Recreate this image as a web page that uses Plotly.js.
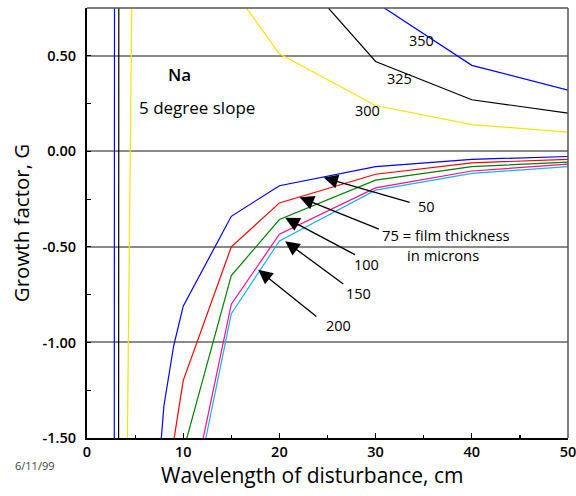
<!DOCTYPE html>
<html>
<head>
<meta charset="utf-8">
<script src="https://cdn.plot.ly/plotly-3.0.1.min.js"></script>
<style>html,body{margin:0;padding:0;background:#fff;}#chart{width:576px;height:496px;}</style>
</head>
<body>
<div id="chart"></div>
<script>
// Wavelength (cm) and growth factor G for each curve
const x350 = [2, 3, 5, 10, 15, 20, 30, 40, 50];
const g350 = [-85, 15, 8, 4, 2, 1.3, 0.78, 0.45, 0.32];
const x325 = [3, 4, 5, 10, 15, 20, 30, 40, 50];
const g325 = [-30, 70, 10, 4, 2, 1.04, 0.47, 0.27, 0.20];
const x300 = [4, 5, 10, 15, 20, 30, 40, 50];
const g300 = [-2.5, 2.5, 1.5, 0.86, 0.51, 0.24, 0.14, 0.10];

const x50 = [7, 8, 9, 10, 15, 20, 30, 40, 50];
const g50 = [-1.95, -1.33, -1.02, -0.81, -0.34, -0.18, -0.08, -0.042, -0.027];
const x75 = [8, 9, 10, 15, 20, 30, 40, 50];
const g75 = [-2.1, -1.52, -1.2, -0.50, -0.27, -0.12, -0.06, -0.042];
const x100 = [10, 15, 20, 30, 40, 50];
const g100 = [-1.57, -0.65, -0.357, -0.151, -0.08, -0.056];
const x150 = [10, 15, 20, 30, 40, 50];
const g150 = [-2.0, -0.80, -0.434, -0.191, -0.103, -0.067];
const x200 = [10, 15, 20, 30, 40, 50];
const g200 = [-2.08, -0.85, -0.469, -0.203, -0.115, -0.080];

const yTickVals = [-1.5, -1.0, -0.5, 0.0, 0.5];
const yTickText = ['-1.50', '-1.00', '-0.50', '0.00', '0.50'];
const xTickVals = [0, 10, 20, 30, 40, 50];

const FONT = 'Open Sans, Noto Sans, sans-serif';

function line(x, y, color) {
  return {x: x, y: y, type: 'scatter', mode: 'lines', line: {color: color, width: 1.2}, hoverinfo: 'skip', showlegend: false};
}

const traces = [
  line(x350, g350, '#0000ff'),
  line(x325, g325, '#000000'),
  line(x300, g300, '#f5e600'),
  line(x50, g50, '#0000ff'),
  line(x75, g75, '#ff0000'),
  line(x100, g100, '#008000'),
  line(x150, g150, '#ff0a8c'),
  line(x200, g200, '#1ab0ef')
];

function txt(x, y, t, size, extra) {
  return Object.assign({x: x, y: y, xref: 'x', yref: 'y', text: t, showarrow: false,
    font: {family: FONT, size: size, color: '#000'}, xanchor: 'center', yanchor: 'middle'}, extra || {});
}
function arr(hx, hy, tx, ty) {
  return {x: hx, y: hy, ax: tx, ay: ty, xref: 'x', yref: 'y', axref: 'x', ayref: 'y', text: '',
    showarrow: true, arrowhead: 2, arrowsize: 2.2, arrowwidth: 1.3, arrowcolor: '#000', standoff: 0};
}

const annotations = [
  txt(9.6, 0.40, 'Na', 17, {font: {family: FONT, size: 17, color: '#000', weight: 600}}),
  txt(11.4, 0.23, '5 degree slope', 17),
  txt(34.8, 0.58, '350', 14.5),
  txt(32.5, 0.38, '325', 14.5),
  txt(29.2, 0.215, '300', 14.5),
  txt(35.3, -0.29, '50', 14.5),
  txt(37.3, -0.44, '75 = film thickness', 14.8),
  txt(37.0, -0.54, 'in microns', 14.8),
  txt(29.1, -0.59, '100', 14.5),
  txt(28.2, -0.745, '150', 14.5),
  txt(26.1, -0.91, '200', 14.5),
  arr(24.6, -0.137, 33.7, -0.27),
  arr(22.1, -0.24, 30.5, -0.41),
  arr(20.6, -0.347, 28.0, -0.545),
  arr(20.6, -0.47, 26.8, -0.70),
  arr(17.8, -0.62, 24.0, -0.87),
  {x: -0.108, y: -0.065, xref: 'paper', yref: 'paper', text: '6/11/99', showarrow: false,
   xanchor: 'center', yanchor: 'middle', font: {family: FONT, size: 11, color: '#444'}},
  {x: 0.468, y: -0.086, xref: 'paper', yref: 'paper', text: 'Wavelength of disturbance, cm', showarrow: false,
   xanchor: 'center', yanchor: 'middle', font: {family: FONT, size: 21, color: '#000'}}
];

const layout = {
  width: 576, height: 496,
  margin: {l: 87, r: 8, t: 8, b: 58},
  paper_bgcolor: '#fff', plot_bgcolor: '#fff',
  xaxis: {
    range: [0, 50], tickvals: xTickVals, ticks: 'inside', ticklen: 5, tickcolor: '#000', tickwidth: 1.2,
    minor: {dtick: 5, ticks: 'inside', ticklen: 3, tickcolor: '#000', showgrid: false},
    showgrid: false, zeroline: false, showline: true, linecolor: '#000', linewidth: 2,
    ticklabeloverflow: 'allow',
    tickfont: {family: FONT, size: 14.5, weight: 600, color: '#000'},
    fixedrange: true
  },
  yaxis: {
    range: [-1.5, 0.75], tickvals: yTickVals, ticktext: yTickText, ticks: 'inside', ticklen: 4, tickcolor: '#000', tickwidth: 1.2,
    minor: {dtick: 0.25, ticks: 'inside', ticklen: 4, tickcolor: '#000', showgrid: false},
    showgrid: true, gridcolor: '#8a8a8a', gridwidth: 2,
    zeroline: false, showline: true, linecolor: '#000', linewidth: 2,
    ticklabelstandoff: 6,
    tickfont: {family: FONT, size: 14.5, weight: 600, color: '#000'},
    title: {text: 'Growth factor, G', font: {family: FONT, size: 20.5, color: '#000'}, standoff: 7},
    fixedrange: true
  },
  shapes: [
    {type: 'line', xref: 'paper', yref: 'paper', x0: 0, x1: 1, y0: 1, y1: 1, line: {color: '#555', width: 1.5}},
    {type: 'line', xref: 'paper', yref: 'paper', x0: 1, x1: 1, y0: 0, y1: 1, line: {color: '#555', width: 1.5}}
  ],
  annotations: annotations,
  showlegend: false
};

Plotly.newPlot('chart', traces, layout, {displayModeBar: false, staticPlot: true});
</script>
</body>
</html>
